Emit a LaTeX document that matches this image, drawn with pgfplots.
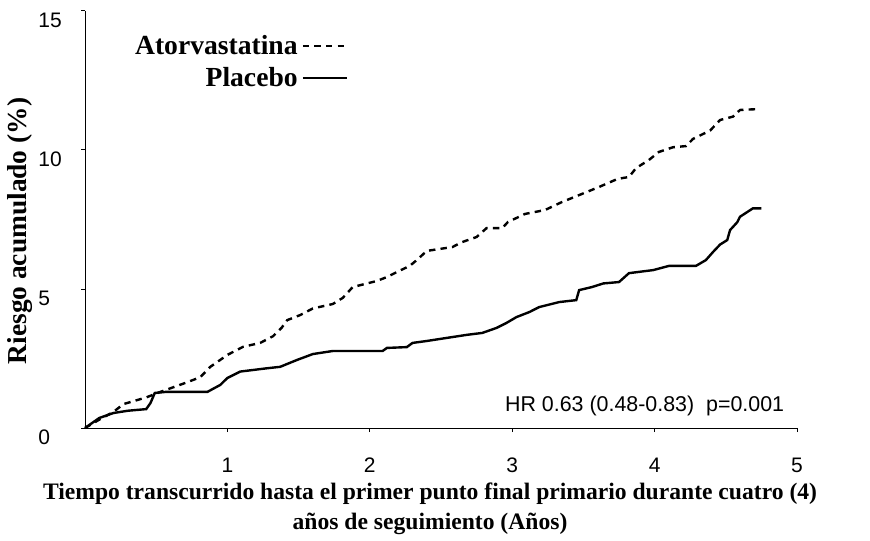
\documentclass[border=0pt]{standalone}
\usepackage{fontspec}
\setmainfont{Liberation Serif}
\newfontfamily\arial{Liberation Sans}
\usepackage{pgfplots}
\pgfplotsset{compat=1.18}
\begin{document}
\begin{tikzpicture}
\useasboundingbox (-42.5pt,-56pt) rectangle (392.5pt,214pt);
\begin{axis}[
  scale only axis,
  width=356pt, height=208.5pt,
  xmin=0, xmax=5, ymin=0, ymax=15,
  axis lines*=left,
  axis line style={-, line width=0.5pt},
  xtick={1,2,3,4,5},
  ytick={0,5,10,15},
  tick align=outside,
  major tick length=2pt,
  tick style={black, line width=0.5pt},
  /pgf/number format/assume math mode=true,
  ticklabel style={font=\arial\fontsize{10.5}{12}\selectfont},
  yticklabel style={anchor=base west, inner sep=0pt, xshift=-21.5pt, yshift=-8.3pt},
  xticklabel style={anchor=base, inner sep=0pt, yshift=-20pt},
  xlabel={Tiempo transcurrido hasta el primer punto final primario durante cuatro (4)\\años de seguimiento (Años)},
  xlabel style={at={(axis description cs:0.4846,-0.1295)}, anchor=north, inner sep=0pt, align=center, font=\bfseries\fontsize{11.8}{15}\selectfont},
  ylabel={Riesgo acumulado (\%)},
  ylabel style={at={(axis description cs:-0.0913,0.4724)}, anchor=center, inner sep=0pt, font=\bfseries\fontsize{13.7}{15}\selectfont},
  legend plot pos=right,
  legend cell align=right,
  legend style={at={(axis cs:1.85,14.3)}, anchor=north east, draw=none, fill=none,
    font=\bfseries\fontsize{13.8}{14}\selectfont, row sep=1pt, inner sep=0pt},
  legend image code/.code={\draw[#1] (0pt,0pt) -- (22pt,0pt);},
  clip=false,
]
\addplot[black, line width=1.2pt, dash pattern=on 3.2pt off 2.6pt] coordinates {
(0,0) (0.1,0.3) (0.2,0.58) (0.27,0.86) (0.43,1.1) (0.53,1.3) (0.72,1.65) (0.81,1.83)
(0.88,2.2) (1.0,2.63) (1.11,2.92) (1.23,3.06) (1.32,3.3) (1.38,3.6) (1.42,3.88)
(1.51,4.06) (1.6,4.3) (1.74,4.46) (1.81,4.68) (1.88,5.07) (2.05,5.29) (2.12,5.43)
(2.19,5.61) (2.28,5.83) (2.33,6.04) (2.4,6.37) (2.49,6.44) (2.58,6.51) (2.65,6.69)
(2.75,6.87) (2.82,7.19) (2.93,7.19) (2.97,7.41) (3.09,7.7) (3.23,7.84) (3.35,8.13)
(3.49,8.42) (3.61,8.67) (3.74,8.96) (3.82,9.03) (3.87,9.35) (3.96,9.64) (4.03,9.93)
(4.13,10.1) (4.22,10.14) (4.27,10.4) (4.39,10.7) (4.46,11.08) (4.55,11.2) (4.6,11.44)
(4.72,11.47)
};
\addlegendentry{Atorvastatina}
\addplot[black, line width=1.2pt] coordinates {
(0,0) (0.1,0.36) (0.2,0.54) (0.3,0.62) (0.43,0.68) (0.46,0.9) (0.49,1.26) (0.57,1.3)
(0.86,1.3) (0.95,1.55) (1.0,1.8) (1.09,2.03) (1.28,2.15) (1.37,2.2) (1.49,2.45)
(1.6,2.66) (1.74,2.77) (2.09,2.77) (2.12,2.88) (2.26,2.91) (2.3,3.06) (2.4,3.13)
(2.54,3.24) (2.68,3.35) (2.79,3.42) (2.89,3.6) (2.96,3.78) (3.03,3.99) (3.12,4.17)
(3.19,4.35) (3.33,4.53) (3.45,4.6) (3.47,4.96) (3.56,5.07) (3.64,5.2) (3.75,5.25)
(3.82,5.57) (3.99,5.68) (4.1,5.83) (4.29,5.83) (4.36,6.04) (4.41,6.33) (4.46,6.6)
(4.51,6.76) (4.53,7.12) (4.58,7.4) (4.6,7.6) (4.69,7.9) (4.75,7.9)
};
\addlegendentry{Placebo}
\node[font=\arial\fontsize{10.7}{12}\selectfont] at (axis cs:3.93,0.79) {HR 0.63 (0.48-0.83)\ \ p=0.001};
\end{axis}
\end{tikzpicture}
\end{document}
